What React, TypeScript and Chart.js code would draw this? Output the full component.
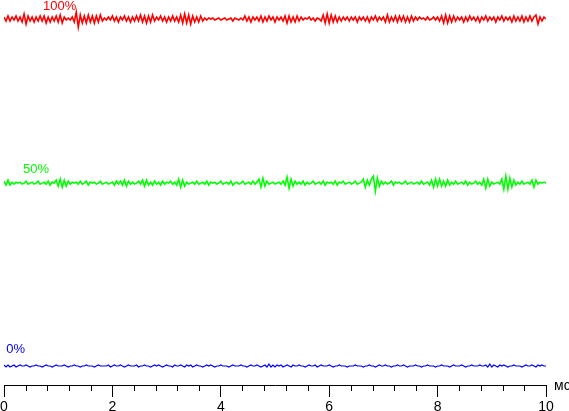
import React, { useEffect, useRef } from "react";
import { Chart, registerables } from "chart.js";

Chart.register(...registerables);

// ---- data ----
const TIME_MIN = 0;
const TIME_MAX = 10; // ms
const MAJOR_STEP = 2;
const MINOR_STEP = 0.4;
const UNIT_LABEL = "мс";

const SERIES_NAMES = ["100%", "50%", "0%"];
const SERIES_COLORS = ["#ff0000", "#00ff00", "#0000ff"];
const RED_LEVEL = 100;
const GREEN_LEVEL = 52.7;
const BLUE_LEVEL = 0;
const NOISE_UNIT = 0.288; // level units per noise count
const Y_MIN = -5.48;
const Y_MAX = 105.48;

const RED_NOISE = [
  2,-2,3,-2,2,-1,3,-2,2,-3,
  5,-5,3,-2,2,-3,2,-2,3,-2,
  3,-4,2,-3,2,-2,3,-3,4,-4,
  2,-1,1,-1,2,-3,7,-8,4,-4,
  3,-4,4,-3,3,-4,3,-3,4,-2,
  1,-1,2,-1,3,-2,2,-3,2,-1,
  3,-2,2,-3,2,-2,3,-2,4,-3,
  3,-4,3,-3,4,-2,2,-1,3,-2,
  2,-3,2,-2,3,-2,2,-3,4,-4,
  5,-4,4,-5,3,-3,2,-3,3,-2,
  1,-1,1,0,1,-1,0,1,-1,0,
  1,-1,0,1,-2,1,0,-1,1,-1,
  3,-2,2,-3,2,-1,2,-2,3,-3,
  2,-2,3,-1,2,-3,2,-1,2,-2,
  3,-4,3,-3,2,-3,3,-2,2,-1,
  1,0,2,-1,1,-2,1,0,-2,4,
  -4,5,-4,4,-3,3,-3,2,-2,2,
  -1,2,-2,2,-1,2,-3,2,-1,2,
  -2,2,-3,2,-1,3,-2,2,-1,2,
  -3,4,-3,2,-2,3,-3,3,-2,3,
  -3,2,-3,3,-2,2,-1,2,0,1,
  -1,2,-1,0,2,-1,2,-2,3,-4,
  4,-4,3,-3,3,-2,2,-1,2,-3,
  2,-2,3,-1,2,-2,2,-3,2,-1,
  3,-2,2,-1,2,-3,2,-1,3,-2,
  2,-1,2,-3,3,-2,2,-2,3,-3,
  2,-2,3,-2,2,4,-5,2,-2,2,
  0,
];

const GREEN_NOISE = [
  2,-2,3,-2,1,-1,1,0,1,-1,
  0,2,-1,0,1,-1,0,2,-1,0,
  1,-1,2,-2,1,0,3,-3,4,-4,
  3,-3,2,-1,1,0,1,-1,2,-1,
  0,2,-2,1,0,1,-1,0,2,-1,
  0,1,-1,0,1,-2,2,-1,2,-2,
  3,-3,2,-1,1,-1,0,2,-1,3,
  -3,3,-2,1,-2,2,-1,1,-2,2,
  -1,1,0,2,-1,1,-2,4,-4,3,
  -3,1,-1,0,1,-1,2,-1,0,1,
  -1,2,-2,1,0,1,-1,0,2,-1,
  0,1,-1,2,-2,0,1,-1,0,2,
  -1,0,1,-1,2,-1,1,4,-4,5,
  -3,2,-1,0,1,-1,0,1,-1,2,
  -2,6,-5,4,-3,2,-1,1,-1,2,
  -2,1,-1,0,2,-1,0,1,-1,2,
  -2,1,0,1,-1,2,-2,1,0,2,
  -1,0,1,-1,0,2,-1,0,1,4,
  -4,3,-2,4,7,-8,5,-3,2,-1,
  1,-1,0,2,-2,1,0,1,-1,0,
  2,-1,0,1,-1,0,1,-1,2,-1,
  0,1,-2,3,-4,4,-3,4,-3,2,
  -3,3,-2,1,-1,2,-1,0,1,-1,
  2,-2,1,-1,0,2,-1,1,-2,4,
  -5,4,-3,1,-1,0,1,-1,4,-6,
  7,-6,5,-4,3,-2,1,-1,2,-1,
  0,1,-1,3,-4,3,-1,1,0,1,
  0,
];

const BLUE_NOISE = [
  1,-1,1,-1,0,1,-1,0,1,0,
  0,1,0,-1,0,0,1,0,0,-1,
  0,1,0,0,-1,0,1,0,0,0,
  1,0,-1,0,0,1,0,0,-1,0,
  0,1,0,0,0,-1,0,1,0,0,
  0,0,1,-1,0,1,0,0,1,0,
  -1,0,1,0,0,0,1,-1,0,0,
  1,0,0,-1,0,1,0,1,0,-1,
  0,1,0,0,-1,1,0,0,1,0,
  -1,1,0,1,-1,0,1,0,0,-1,
  0,1,0,1,0,-1,0,0,1,0,
  0,0,-1,0,1,0,0,0,1,0,
  0,-1,0,1,0,0,1,0,-1,0,
  1,-1,2,-1,1,-1,1,0,1,-1,
  0,1,0,-1,1,0,0,1,0,0,
  -1,0,1,0,0,1,-1,0,1,0,
  0,0,1,0,-1,0,0,1,0,0,
  0,-1,0,0,0,1,0,0,0,-1,
  0,0,1,0,0,-1,0,1,0,0,
  1,0,0,-1,0,0,1,0,0,1,
  0,-1,0,0,0,1,0,0,-1,0,
  0,1,0,0,0,-1,0,0,1,0,
  0,0,-1,0,1,0,0,0,1,0,
  -1,0,0,1,0,0,0,1,0,0,
  1,-1,2,-1,1,0,-1,1,0,1,
  0,-1,0,0,1,0,0,0,-1,0,
  1,0,0,1,0,-1,1,0,1,0,
  0,
];

// label anchor times (ms) for the series captions
const CAPTION_TIMES = [0.72, 0.35, 0.04];

const FONT_FAMILY = "Arial, 'Liberation Sans', sans-serif";

function buildPoints(level: number, noise: number[]) {
  const n = noise.length;
  return noise.map((v, i) => ({
    x: TIME_MIN + (i * (TIME_MAX - TIME_MIN)) / (n - 1),
    y: level + v * NOISE_UNIT,
  }));
}

export default function App() {
  const canvasRef = useRef<HTMLCanvasElement | null>(null);

  useEffect(() => {
    document.body.style.margin = "0";
    const canvas = canvasRef.current;
    if (!canvas) return;

    const levels = [RED_LEVEL, GREEN_LEVEL, BLUE_LEVEL];
    const noises = [RED_NOISE, GREEN_NOISE, BLUE_NOISE];
    const widths = [1.6, 1.6, 1.2];

    const overlay = {
      id: "overlay",
      afterDraw(chart: any) {
        const ctx = chart.ctx as CanvasRenderingContext2D;
        const xs = chart.scales.x;
        const ys = chart.scales.y;
        const bottom = chart.chartArea.bottom;
        ctx.save();
        // minor ticks
        ctx.strokeStyle = "#000";
        ctx.lineWidth = 1;
        ctx.beginPath();
        const nMinor = Math.round((TIME_MAX - TIME_MIN) / MINOR_STEP);
        const ratio = Math.round(MAJOR_STEP / MINOR_STEP);
        for (let i = 1; i < nMinor; i++) {
          if (i % ratio === 0) continue;
          const px = Math.round(xs.getPixelForValue(TIME_MIN + i * MINOR_STEP)) + 0.5;
          ctx.moveTo(px, bottom);
          ctx.lineTo(px, bottom + 6);
        }
        ctx.stroke();
        // unit label
        ctx.fillStyle = "#000";
        ctx.font = "14px " + FONT_FAMILY;
        ctx.textAlign = "left";
        ctx.textBaseline = "alphabetic";
        ctx.fillText(UNIT_LABEL, chart.chartArea.right + 8, bottom + 5);
        // series captions
        const offsets = [-9, -10, -13];
        ctx.font = "13px " + FONT_FAMILY;
        SERIES_NAMES.forEach((name, k) => {
          ctx.fillStyle = SERIES_COLORS[k];
          const px = xs.getPixelForValue(CAPTION_TIMES[k]);
          const py = ys.getPixelForValue(levels[k]) + offsets[k];
          ctx.fillText(name, px, py);
        });
        ctx.restore();
      },
    };

    const chart = new Chart(canvas, {
      type: "line",
      data: {
        datasets: SERIES_NAMES.map((name, k) => ({
          label: name,
          data: buildPoints(levels[k], noises[k]),
          borderColor: SERIES_COLORS[k],
          backgroundColor: SERIES_COLORS[k],
          borderWidth: widths[k],
          pointRadius: 0,
          tension: 0,
          fill: false,
        })),
      },
      options: {
        animation: false,
        responsive: false,
        devicePixelRatio: 1,
        layout: { padding: { left: 4, right: 23, top: 0, bottom: 0 } },
        plugins: { legend: { display: false }, tooltip: { enabled: false } },
        scales: {
          x: {
            type: "linear",
            min: TIME_MIN,
            max: TIME_MAX,
            afterFit: (scale: any) => {
              scale.height = 26;
              scale.paddingLeft = 0;
              scale.paddingRight = 0;
            },
            ticks: {
              stepSize: MAJOR_STEP,
              color: "#000",
              padding: 2,
              maxRotation: 0,
              font: { family: FONT_FAMILY, size: 14 },
            },
            grid: {
              drawOnChartArea: false,
              drawTicks: true,
              tickLength: 12,
              color: "#000",
              lineWidth: 1,
            },
            border: { display: true, color: "#000", width: 1 },
          },
          y: {
            type: "linear",
            display: false,
            min: Y_MIN,
            max: Y_MAX,
          },
        },
      },
      plugins: [overlay],
    });

    return () => chart.destroy();
  }, []);

  return (
    <div style={{ width: 569, height: 411 }}>
      <canvas ref={canvasRef} width={569} height={411} style={{ display: "block" }} />
    </div>
  );
}
